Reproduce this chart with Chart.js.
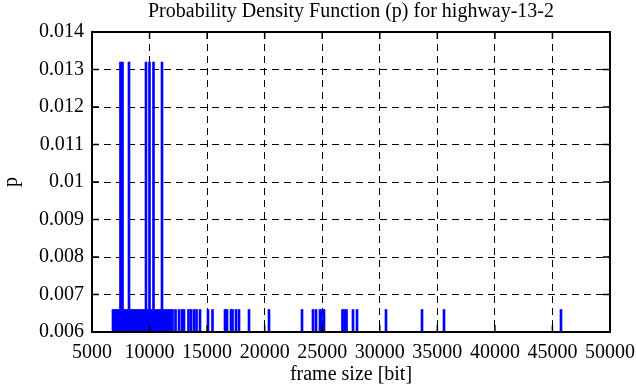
<!DOCTYPE html>
<html>
<head>
<meta charset="utf-8">
<script src="https://cdn.jsdelivr.net/npm/chart.js@4.4.0/dist/chart.umd.min.js"></script>
<style>
  body { margin: 0; background: #fff; }
  #wrap { width: 636px; height: 387px; }
</style>
</head>
<body>
<div id="wrap"><canvas id="pdfChart"></canvas></div>
<script>
// frame sizes seen once / twice (bit)
const sizesOnce = [6824, 6998, 7172, 7302, 7519, 7693, 7867, 8040, 8388, 8562,
  8735, 8909, 9083, 9257, 9430, 9604, 9778, 9952, 10125, 10299, 10473, 10647,
  10820, 10994, 11168, 11342, 11515, 11689, 11819, 11993, 12254, 12558, 12818,
  12992, 13383, 13600, 13861, 14078, 14382, 15077, 15468, 16554, 16728, 17075,
  17205, 17509, 17770, 18639, 20376, 23243, 24198, 24459, 24806, 24937, 25154,
  26761, 26935, 27109, 27673, 28021, 30540, 33667, 35578, 45742];
const sizesTwice = [7476, 7650, 8214, 9691, 9995, 10343, 11081];
const pOnce = 0.0066;
const pTwice = 0.0132;

const xTicks = [5000, 10000, 15000, 20000, 25000, 30000, 35000, 40000, 45000, 50000];
const yTicks = [0.006, 0.007, 0.008, 0.009, 0.01, 0.011, 0.012, 0.013, 0.014];
const chartTitle = 'Probability Density Function (p) for highway-13-2';

const font = { family: 'Liberation Serif', size: 20 };

// gnuplot style frame with inward ticks, title centred over the plot
const framePlugin = {
  id: 'frame',
  afterDatasetsDraw(chart) {
    const { ctx, chartArea: a, scales } = chart;
    ctx.save();
    ctx.strokeStyle = '#000';
    ctx.lineWidth = 1.5;
    ctx.beginPath();
    scales.x.ticks.forEach(t => {
      const px = scales.x.getPixelForValue(t.value);
      ctx.moveTo(px, a.bottom); ctx.lineTo(px, a.bottom - 7);
      ctx.moveTo(px, a.top); ctx.lineTo(px, a.top + 7);
    });
    scales.y.ticks.forEach(t => {
      const py = scales.y.getPixelForValue(t.value);
      ctx.moveTo(a.left, py); ctx.lineTo(a.left + 7, py);
      ctx.moveTo(a.right, py); ctx.lineTo(a.right - 7, py);
    });
    ctx.stroke();
    ctx.lineWidth = 2;
    ctx.strokeRect(a.left, a.top, a.right - a.left, a.bottom - a.top);

    ctx.fillStyle = '#000';
    ctx.font = '20px "Liberation Serif"';
    ctx.textAlign = 'center';
    ctx.textBaseline = 'middle';
    ctx.fillText(chartTitle, (a.left + a.right) / 2, 12);
    ctx.restore();
  }
};

new Chart(document.getElementById('pdfChart'), {
  type: 'bar',
  data: {
    datasets: [
      {
        data: sizesOnce.map(s => ({ x: s, y: pOnce })),
        backgroundColor: '#0000ff',
        barThickness: 2,
        grouped: false
      },
      {
        data: sizesTwice.map(s => ({ x: s, y: pTwice })),
        backgroundColor: '#0000ff',
        barThickness: 2,
        grouped: false
      }
    ]
  },
  options: {
    responsive: true,
    maintainAspectRatio: false,
    animation: false,
    layout: { padding: { left: 0, right: 26, top: 32, bottom: 0 } },
    plugins: {
      legend: { display: false },
      tooltip: { enabled: false },
      title: { display: false }
    },
    scales: {
      x: {
        type: 'linear',
        min: 5000,
        max: 50000,
        offset: false,
        afterBuildTicks: s => { s.ticks = xTicks.map(v => ({ value: v })); },
        afterFit: s => { s.height = 55; s.paddingLeft = 0; s.paddingRight = 0; },
        ticks: {
          color: '#000',
          font: font,
          padding: 9,
          maxRotation: 0,
          autoSkip: false,
          callback: v => String(v)
        },
        grid: {
          offset: false,
          drawTicks: false,
          color: '#000',
          lineWidth: 1
        },
        border: { display: false, dash: [7, 5] },
        title: {
          display: true,
          text: 'frame size [bit]',
          color: '#000',
          font: font,
          padding: { top: 0, bottom: 0 }
        }
      },
      y: {
        min: 0.006,
        max: 0.014,
        afterBuildTicks: s => { s.ticks = yTicks.map(v => ({ value: v })); },
        afterFit: s => { s.width = 92; s.paddingTop = 0; s.paddingBottom = 0; },
        ticks: {
          color: '#000',
          font: font,
          padding: 8,
          callback: v => String(+v.toFixed(3))
        },
        grid: {
          drawTicks: false,
          color: '#000',
          lineWidth: 1
        },
        border: { display: false, dash: [7, 5] },
        title: {
          display: true,
          text: 'p',
          color: '#000',
          font: font,
          padding: { top: 0, bottom: 0 }
        }
      }
    }
  },
  plugins: [framePlugin]
});
</script>
</body>
</html>
